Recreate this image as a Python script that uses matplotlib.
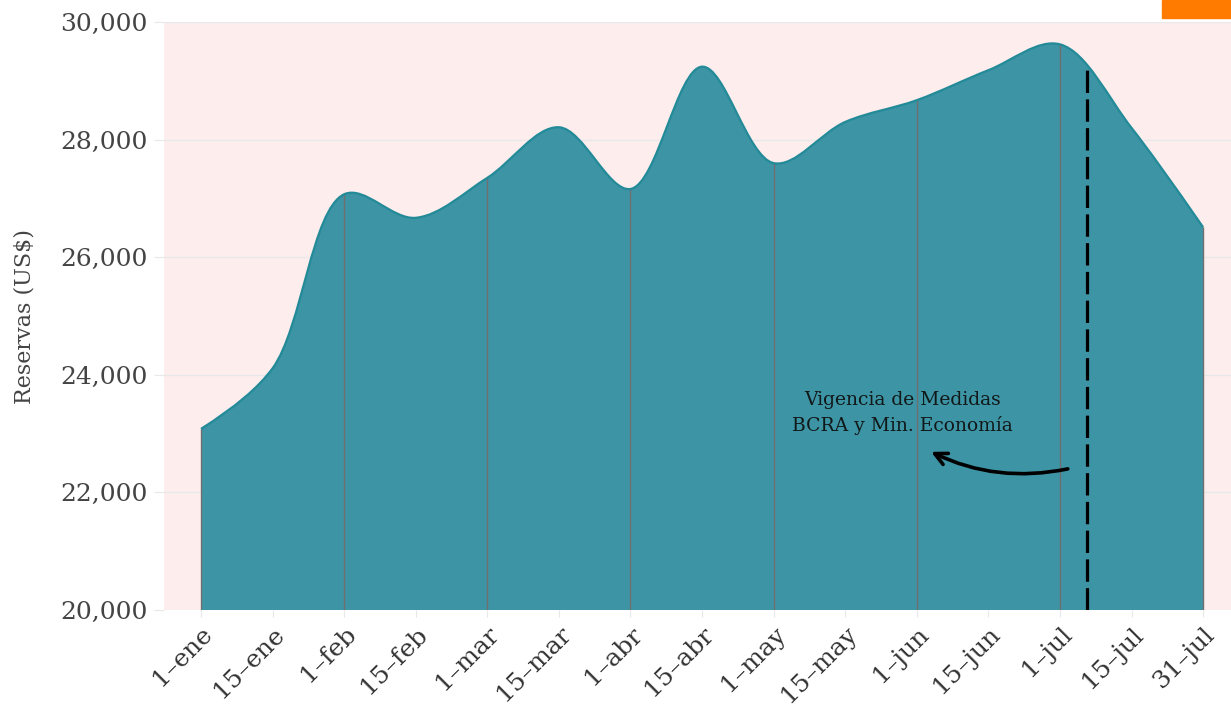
import numpy as np
import matplotlib.pyplot as plt
from matplotlib.path import Path
from matplotlib.patches import PathPatch, Rectangle
from matplotlib.ticker import FuncFormatter

# data (reservas, millones US$)
fechas = ["1–ene", "15–ene", "1–feb", "15–feb", "1–mar", "15–mar", "1–abr",
          "15–abr", "1–may", "15–may", "1–jun", "15–jun", "1–jul", "15–jul", "31–jul"]
reservas = [23080, 24110, 27070, 26670, 27350, 28210, 27160,
            29240, 27600, 28300, 28670, 29180, 29620, 28200, 26510]
inicio_mes = [0, 2, 4, 6, 8, 10, 12, 14]   # indices con linea vertical
medidas_x = 12.38      # fecha de las medidas (entre 1-jul y 15-jul)
medidas_top = 29250

FILL = "#3d94a5"
LINE = "#238a98"
FONT = "DejaVu Serif"

plt.rcParams["font.family"] = FONT

x = np.arange(len(reservas))
y = np.array(reservas, dtype=float)

# approx pixel scale, so the smoothing behaves like a screen-space spline
SX, SY = 71.57, 0.0588


def tangent(p0, p1, p2, s=1.0):
    d1 = np.array(p0) - p1
    d2 = np.array(p2) - p1
    d1a = np.hypot(*d1) ** 0.5
    d2a = np.hypot(*d2) ** 0.5
    num = (d2a ** 2 * d1 - d1a ** 2 * d2) * s
    return p1 + num / (3 * d2a * (d1a + d2a)), p1 - num / (3 * d1a * (d1a + d2a))


def spline_paths(xs, ys, base):
    pts = [np.array([a * SX, b * SY]) for a, b in zip(xs, ys)]
    n = len(pts)
    tg = [tangent(pts[i - 1], pts[i], pts[i + 1]) for i in range(1, n - 1)]
    verts = [pts[0], tg[0][0], pts[1]]
    codes = [Path.MOVETO, Path.CURVE3, Path.CURVE3]
    for i in range(2, n - 1):
        verts += [tg[i - 2][1], tg[i - 1][0], pts[i]]
        codes += [Path.CURVE4] * 3
    verts += [tg[n - 3][1], pts[-1]]
    codes += [Path.CURVE3, Path.CURVE3]
    verts = [(v[0] / SX, v[1] / SY) for v in verts]
    curve = Path(verts, codes)
    area = Path([(xs[0], base)] + verts + [(xs[-1], base), (xs[0], base)],
                [Path.MOVETO, Path.LINETO] + codes[1:] + [Path.LINETO, Path.CLOSEPOLY])
    return area, curve


fig = plt.figure(figsize=(12.31, 7.08), dpi=100)
ax = fig.add_axes([164 / 1231, 98 / 708, 1 - 164 / 1231, 588 / 708])
ax.set_facecolor("#fdeded")

area, curve = spline_paths(x, y, 20000)
ax.add_patch(PathPatch(area, facecolor=FILL, edgecolor="none", zorder=2))
ax.add_patch(PathPatch(curve, facecolor="none", edgecolor=LINE, lw=1.6, zorder=4))

ax.vlines([x[i] for i in inicio_mes], 20000, [y[i] for i in inicio_mes],
          color="#6f6f6f", lw=1, zorder=3)

ax.vlines(medidas_x, 20000, medidas_top, color="black", lw=2.3,
          linestyle=(0, (7, 2)), zorder=5)

ax.text(9.8, 23350, "Vigencia de Medidas\nBCRA y Min. Economía",
        ha="center", va="center", fontsize=13.5, color="#111818",
        linespacing=1.5, zorder=6)
ax.annotate("", xy=(10.2, 22690), xytext=(12.11, 22400),
            arrowprops=dict(arrowstyle="->", color="black", lw=2.6,
                            connectionstyle="arc3,rad=-0.17",
                            mutation_scale=22, shrinkA=0, shrinkB=0),
            zorder=6)

ax.set_xlim(-0.517, 14.39)
ax.set_ylim(20000, 30000)
ax.set_yticks(np.arange(20000, 30001, 2000))
ax.yaxis.set_major_formatter(FuncFormatter(lambda v, p: f"{int(v):,}"))
ax.set_xticks(x)
ax.set_xticklabels(fechas, rotation=45, ha="right", rotation_mode="anchor")
ax.grid(axis="y", color="#e8e8e8", lw=1, zorder=0)
ax.set_axisbelow(True)
for s in ax.spines.values():
    s.set_visible(False)
ax.tick_params(axis="y", length=7, color="#e8e8e8", pad=5,
               labelsize=18, labelcolor="#444444")
ax.tick_params(axis="x", length=5, color="#e8e8e8", pad=4,
               labelsize=18, labelcolor="#333333")
ax.set_ylabel("Reservas (US$)", fontsize=16, color="#444444")
ax.yaxis.set_label_coords(-0.120, 0.5)

fig.patches.append(Rectangle((1162 / 1231, 1 - 18 / 708), 69 / 1231, 18 / 708,
                             transform=fig.transFigure, color="#ff7b00"))

fig.savefig("out.png", dpi=100)
